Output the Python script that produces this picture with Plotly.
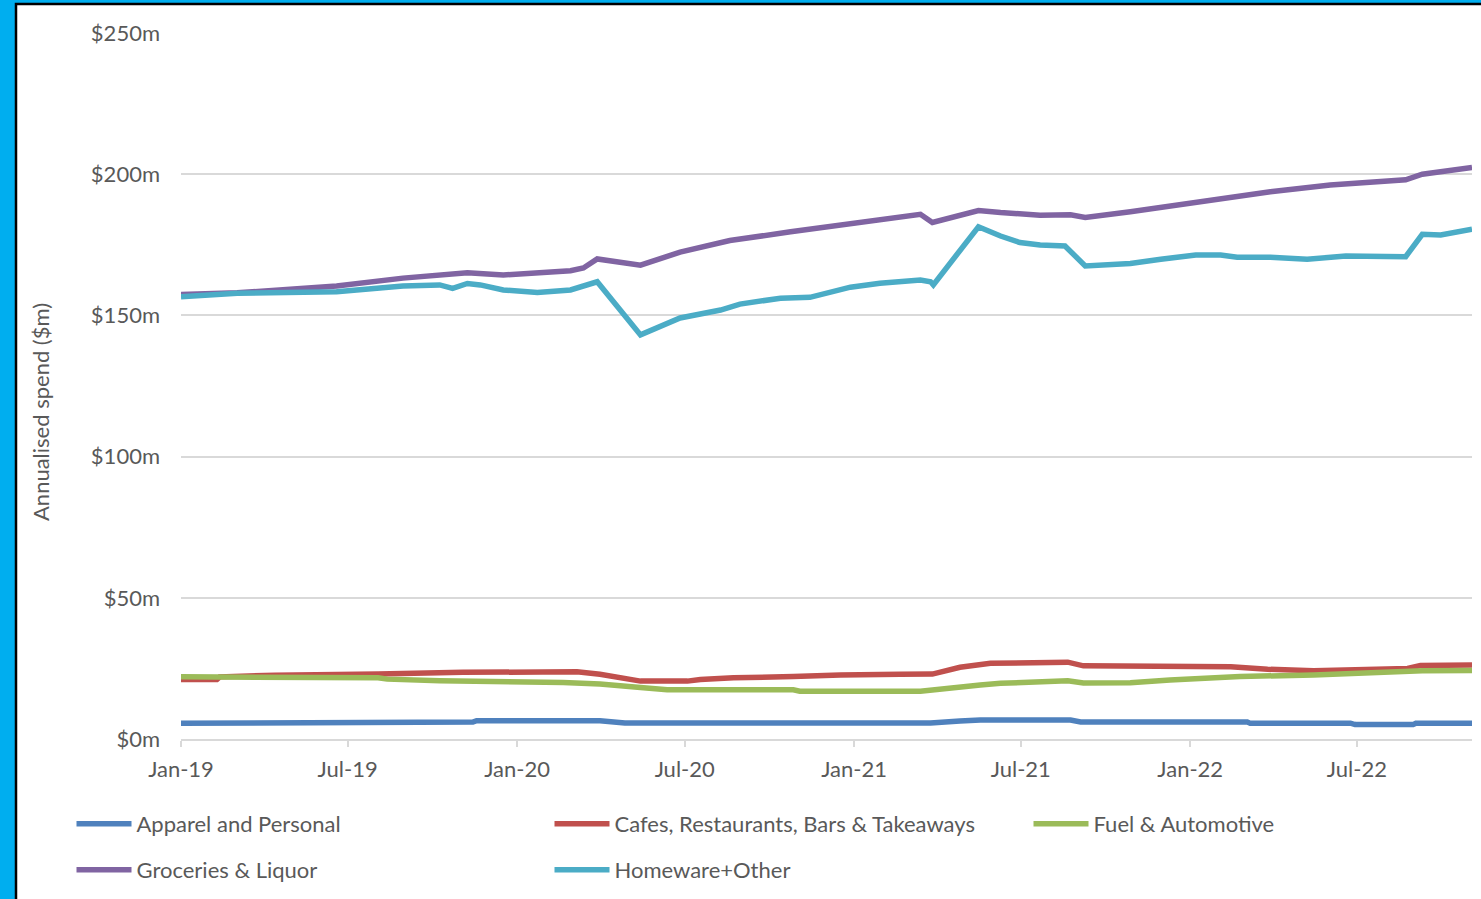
import plotly.graph_objects as go

# ---- data (annualised spend, $m) ----
apparel_dates = ["2019-01-01", "2019-04-08", "2019-04-13", "2019-11-14", "2019-11-18", "2020-03-31",
                 "2020-04-27", "2021-03-25", "2021-04-26", "2021-05-18", "2021-08-24", "2021-09-04",
                 "2022-03-04", "2022-03-07", "2022-06-24", "2022-06-29", "2022-08-31", "2022-09-03",
                 "2022-11-03"]
apparel_vals = [5.6, 5.6, 6.0, 6.0, 6.5, 6.5, 5.7, 5.7, 6.4, 6.7, 6.7, 6.0, 6.0, 5.6, 5.6, 5.1, 5.1, 5.6, 5.6]

cafes_dates = ["2019-01-01", "2019-02-09", "2019-02-12", "2019-04-13", "2019-08-03", "2019-11-03",
               "2020-03-06", "2020-03-31", "2020-05-14", "2020-07-04", "2020-07-18", "2020-08-23",
               "2020-10-27", "2020-12-17", "2021-02-20", "2021-03-27", "2021-04-26", "2021-05-29",
               "2021-08-21", "2021-09-07", "2022-02-14", "2022-03-26", "2022-05-15", "2022-08-25",
               "2022-09-08", "2022-11-03"]
cafes_vals = [21.1, 21.1, 22.0, 22.6, 23.0, 23.6, 23.8, 22.9, 20.5, 20.5, 21.1, 21.7, 22.1, 22.7, 22.9,
              23.0, 25.4, 26.8, 27.2, 25.9, 25.6, 24.7, 24.2, 25.0, 26.0, 26.2]

fuel_dates = ["2019-01-01", "2019-04-13", "2019-08-03", "2019-08-13", "2019-10-09", "2020-02-20",
              "2020-03-31", "2020-05-14", "2020-06-12", "2020-10-27", "2020-11-03", "2021-03-14",
              "2021-04-15", "2021-05-18", "2021-06-09", "2021-07-22", "2021-08-21", "2021-09-07",
              "2021-10-28", "2021-12-10", "2022-01-12", "2022-02-24", "2022-05-15", "2022-06-29",
              "2022-08-25", "2022-09-10", "2022-11-03"]
fuel_vals = [22.0, 21.9, 21.7, 21.2, 20.6, 20.0, 19.5, 18.2, 17.4, 17.4, 16.9, 16.9, 18.2, 19.1, 19.7,
             20.1, 20.6, 19.8, 19.9, 20.9, 21.5, 22.1, 22.7, 23.3, 23.6, 24.2, 24.3]

groceries_dates = ["2019-01-01", "2019-03-03", "2019-06-19", "2019-08-30", "2019-11-08", "2019-12-17",
                   "2020-02-28", "2020-03-13", "2020-03-28", "2020-04-11", "2020-05-14", "2020-06-26",
                   "2020-08-19", "2020-10-24", "2020-12-17", "2021-02-20", "2021-03-14", "2021-03-27",
                   "2021-05-16", "2021-06-09", "2021-07-22", "2021-08-24", "2021-09-09", "2021-10-28",
                   "2021-12-21", "2022-02-03", "2022-03-29", "2022-06-02", "2022-08-06", "2022-08-23",
                   "2022-09-10", "2022-11-03"]
groceries_vals = [157.4, 158.0, 160.4, 163.2, 165.1, 164.3, 165.8, 166.8, 170.0, 169.3, 167.8, 172.4,
                  176.5, 179.6, 182.0, 185.0, 185.8, 182.9, 187.1, 186.4, 185.5, 185.6, 184.7, 186.7,
                  189.1, 191.5, 193.8, 196.2, 197.9, 198.0, 200.0, 202.4]

homeware_dates = ["2019-01-01", "2019-03-03", "2019-06-19", "2019-08-30", "2019-10-09", "2019-10-23",
                  "2019-11-08", "2019-11-22", "2019-12-17", "2020-01-23", "2020-02-28", "2020-03-13",
                  "2020-03-28", "2020-05-14", "2020-06-26", "2020-08-09", "2020-08-30", "2020-10-13",
                  "2020-11-14", "2020-12-28", "2021-01-29", "2021-03-14", "2021-03-25", "2021-03-28",
                  "2021-05-16", "2021-06-09", "2021-06-30", "2021-07-22", "2021-08-18", "2021-09-09",
                  "2021-10-06", "2021-10-28", "2021-11-30", "2022-01-07", "2022-02-03", "2022-02-21",
                  "2022-03-29", "2022-05-08", "2022-06-19", "2022-08-23", "2022-09-10", "2022-09-30",
                  "2022-11-03"]
homeware_vals = [156.6, 157.8, 158.4, 160.4, 160.8, 159.6, 161.3, 160.8, 159.0, 158.1, 159.0, 160.2,
                 161.9, 143.1, 149.1, 151.9, 154.0, 156.1, 156.4, 160.0, 161.4, 162.5, 161.9, 160.8,
                 181.4, 178.1, 175.8, 174.9, 174.6, 167.5, 167.8, 168.4, 169.9, 171.4, 171.4, 170.6,
                 170.6, 169.9, 171.0, 170.8, 178.7, 178.5, 180.5]

series_names = ["Apparel and Personal", "Cafes, Restaurants, Bars & Takeaways", "Fuel & Automotive",
                "Groceries & Liquor", "Homeware+Other"]
series_dates = [apparel_dates, cafes_dates, fuel_dates, groceries_dates, homeware_dates]
series_vals = [apparel_vals, cafes_vals, fuel_vals, groceries_vals, homeware_vals]
series_colors = ["#4F81BD", "#C0504D", "#9BBB59", "#8064A2", "#4BACC6"]

y_ticks = [0, 50, 100, 150, 200, 250]
y_ticktext = ["$0m", "$50m", "$100m", "$150m", "$200m", "$250m"]

FONT = "Lato"
FS = 22
TXT = "#595959"

W, H = 1481, 899
L, R, T, B = 181, 9, 33, 160
pw, ph = W - L - R, H - T - B
def px(xp):
    return (xp - L) / pw
def py(yp):
    return (H - B - yp) / ph

# legend slots: (x of line start in px, y center in px)
legend_slots = [(78, 824), (556, 824), (1035, 824), (78, 870), (556, 870)]
legend_ids = ["legend", "legend2", "legend3", "legend4", "legend5"]

fig = go.Figure()
for name, d, v, c, lg in zip(series_names, series_dates, series_vals, series_colors, legend_ids):
    fig.add_trace(go.Scatter(x=d, y=v, mode="lines", name=name, showlegend=True,
                             line=dict(color=c, width=5.5), legend=lg))

# page frame: blue strip and black border
fig.add_shape(type="rect", xref="paper", yref="paper", layer="below",
              x0=px(16), x1=px(W + 20), y0=py(H + 20), y1=py(4),
              fillcolor="white", line=dict(color="black", width=2.5))

legend_layouts = {}
for lid, (lx, ly) in zip(legend_ids, legend_slots):
    legend_layouts[lid] = dict(orientation="h", x=px(lx - 6.5), y=py(ly), xanchor="left",
                               yanchor="middle", itemwidth=55,
                               font=dict(family=FONT, size=FS, color=TXT),
                               bgcolor="rgba(0,0,0,0)")

fig.update_layout(
    width=W, height=H,
    showlegend=True,
    margin=dict(l=L, r=R, t=T, b=B, autoexpand=False),
    paper_bgcolor="#00AEEF",
    plot_bgcolor="white",
    font=dict(family=FONT, size=FS, color=TXT),
    xaxis=dict(
        type="date",
        range=["2019-01-01", "2022-11-03"],
        tick0="2019-01-01", dtick="M6", tickformat="%b-%y",
        showgrid=False, showline=True, linecolor="#D9D9D9", linewidth=2,
        ticks="outside", ticklen=6, tickwidth=2, tickcolor="#D9D9D9",
        tickfont=dict(family=FONT, size=FS, color=TXT),
        ticklabelstandoff=4,
        zeroline=False,
    ),
    yaxis=dict(
        range=[0, 250], tickvals=y_ticks, ticktext=y_ticktext,
        showgrid=True, gridcolor="#D9D9D9", gridwidth=2,
        zeroline=False, showline=False,
        tickfont=dict(family=FONT, size=FS, color=TXT),
        ticklabelstandoff=20,
    ),
    annotations=[dict(text="Annualised spend ($m)", xref="paper", yref="paper",
                      x=px(40), y=py(412), xanchor="center", yanchor="middle",
                      textangle=-90, showarrow=False,
                      font=dict(family=FONT, size=FS, color=TXT))],
    **legend_layouts,
)

fig.write_html("out.html", config={"displayModeBar": False},
               post_script="document.body.style.margin='0px';document.body.style.overflow='hidden';")
